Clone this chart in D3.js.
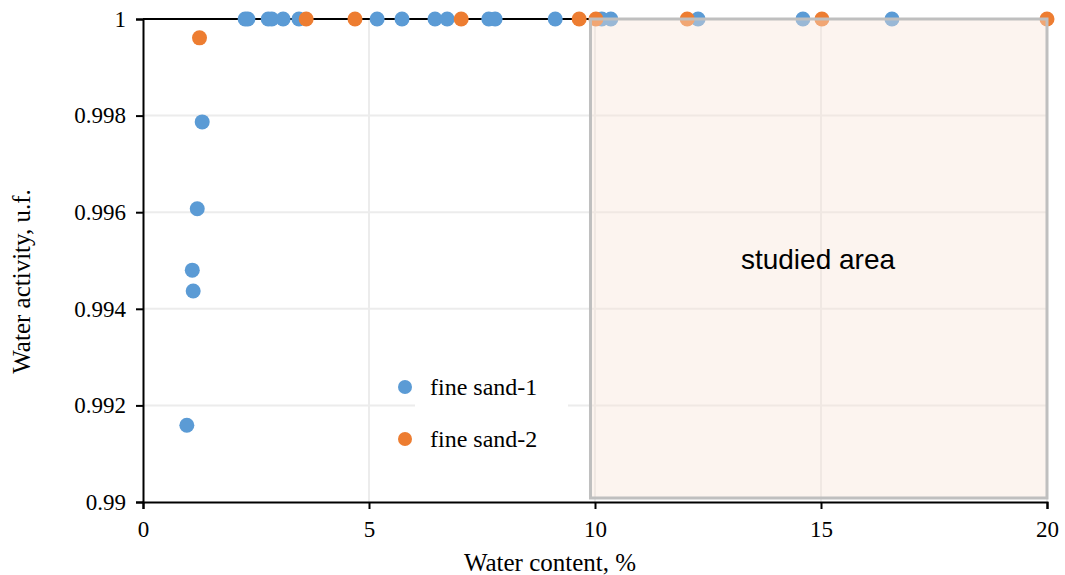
<!DOCTYPE html>
<html>
<head>
<meta charset="utf-8">
<script src="https://cdn.jsdelivr.net/npm/d3@7"></script>
<style>
  body { margin: 0; background: #fff; }
  text { font-family: "Liberation Serif", "Times New Roman", serif; fill: #000; }
</style>
</head>
<body>
<svg width="1065" height="575"></svg>
<script>
// fine sand-1 (blue) and fine sand-2 (orange)
var sand1X = [0.97, 1.09, 1.11, 1.20, 1.31, 2.26, 2.32, 2.77, 2.85, 3.10, 3.45, 5.18, 5.73, 6.46, 6.73, 7.65, 7.79, 9.12, 10.15, 10.35, 12.28, 14.60, 16.57];
var sand1Y = [0.99159, 0.99480, 0.99437, 0.99607, 0.99787, 1, 1, 1, 1, 1, 1, 1, 1, 1, 1, 1, 1, 1, 1, 1, 1, 1, 1];
var sand2X = [1.25, 3.61, 4.69, 7.04, 9.65, 10.02, 12.04, 15.02, 20];
var sand2Y = [0.99961, 1, 1, 1, 1, 1, 1, 1, 1];

var xTicks = [0, 5, 10, 15, 20];
var yTicks = [0.99, 0.992, 0.994, 0.996, 0.998, 1];
var yTickLabels = ["0.99", "0.992", "0.994", "0.996", "0.998", "1"];
var studied = [9.9, 20]; // x-range of the shaded area

var margin = {top: 19, right: 18, bottom: 73, left: 143},
    width = 1065 - margin.left - margin.right,
    height = 575 - margin.top - margin.bottom;

var svg = d3.select("svg")
  .append("g")
  .attr("transform", "translate(" + margin.left + "," + margin.top + ")");

var x = d3.scaleLinear().domain([0, 20]).range([0, width]);
var y = d3.scaleLinear().domain([0.99, 1]).range([height, 0]);

// grid
svg.selectAll(".gx").data(xTicks.slice(1)).enter().append("line")
  .attr("x1", function(d) { return x(d); }).attr("x2", function(d) { return x(d); })
  .attr("y1", 0).attr("y2", height)
  .attr("stroke", "#ececec").attr("stroke-width", 2);
svg.selectAll(".gy").data(yTicks.slice(1, -1)).enter().append("line")
  .attr("x1", 0).attr("x2", width)
  .attr("y1", function(d) { return y(d); }).attr("y2", function(d) { return y(d); })
  .attr("stroke", "#ececec").attr("stroke-width", 2);

// top line at 1
svg.append("line")
  .attr("x1", 0).attr("x2", width).attr("y1", y(1)).attr("y2", y(1))
  .attr("stroke", "#000").attr("stroke-width", 2);

// legend box hides grid under it
svg.append("rect")
  .attr("x", 272).attr("y", 352).attr("width", 153).attr("height", 85)
  .attr("fill", "#fff");

// points
function dots(xs, ys, color) {
  svg.append("g").selectAll("circle")
    .data(xs.map(function(v, i) { return [v, ys[i]]; }))
    .enter().append("circle")
    .attr("cx", function(d) { return x(d[0]); })
    .attr("cy", function(d) { return y(d[1]); })
    .attr("r", 7.5)
    .attr("fill", color);
}
dots(sand1X, sand1Y, "#5b9bd5");
dots(sand2X, sand2Y, "#ed7d31");

// studied area overlay
svg.append("rect")
  .attr("x", x(studied[0])).attr("y", y(1))
  .attr("width", x(studied[1]) - x(studied[0]))
  .attr("height", y(0.99) - y(1) - 4)
  .attr("fill", "rgb(248,228,214)").attr("fill-opacity", 0.4)
  .attr("stroke", "#bfbfbf").attr("stroke-width", 3);

svg.append("text")
  .attr("x", x(15) - 3).attr("y", 250)
  .attr("text-anchor", "middle")
  .style("font-family", "'Liberation Sans', Arial, sans-serif")
  .style("font-size", "28px")
  .text("studied area");

// axes
var xAxis = svg.append("g")
  .attr("transform", "translate(0," + height + ")")
  .call(d3.axisBottom(x).tickValues(xTicks).tickSize(7).tickPadding(12).tickFormat(d3.format("d")));
var yAxis = svg.append("g")
  .call(d3.axisLeft(y).tickValues(yTicks).tickSize(7).tickPadding(10)
    .tickFormat(function(d, i) { return yTickLabels[i]; }));
[xAxis, yAxis].forEach(function(a) {
  a.select(".domain").attr("stroke", "#000").attr("stroke-width", 2);
  a.selectAll(".tick line").attr("stroke", "#000").attr("stroke-width", 2);
  a.selectAll("text").style("font-size", "23px").style("font-family", "'Liberation Serif', serif");
});

// legend
var legend = [["fine sand-1", "#5b9bd5"], ["fine sand-2", "#ed7d31"]];
legend.forEach(function(l, i) {
  svg.append("circle").attr("cx", 262).attr("cy", 368 + i * 52).attr("r", 7).attr("fill", l[1]);
  svg.append("text").attr("x", 287).attr("y", 376 + i * 52)
    .style("font-size", "24px").text(l[0]);
});

// axis titles
svg.append("text")
  .attr("x", 407).attr("y", height + 69)
  .attr("text-anchor", "middle").style("font-size", "25px")
  .text("Water content, %");
svg.append("text")
  .attr("transform", "translate(-113," + (height / 2 + 21) + ") rotate(-90)")
  .attr("text-anchor", "middle").style("font-size", "25px")
  .text("Water activity, u.f.");
</script>
</body>
</html>
